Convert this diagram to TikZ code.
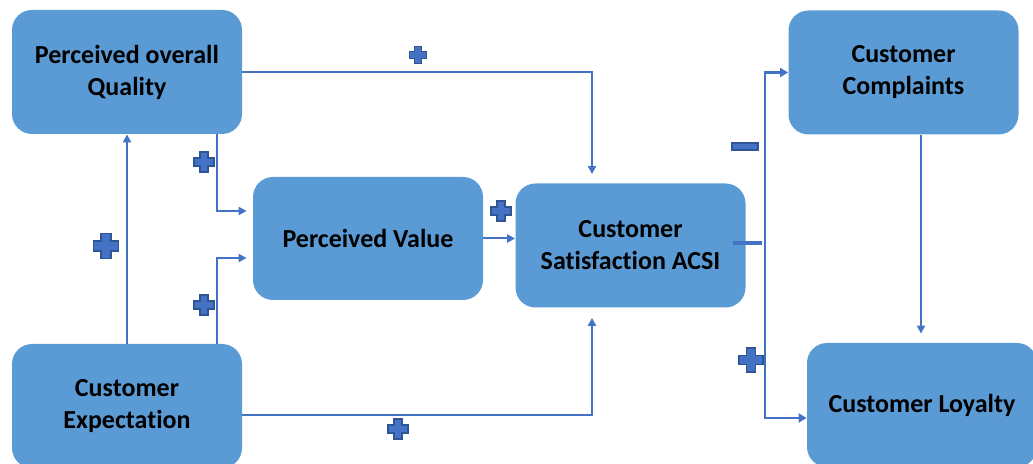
\documentclass[tikz,border=0pt]{standalone}
\usepackage{fontspec}
\setmainfont[Ligatures=NoCommon]{Carlito}
\usepackage{xcolor}
\usetikzlibrary{positioning, arrows.meta, calc}
\definecolor{boxblue}{HTML}{5B9BD5}
\definecolor{lineblue}{HTML}{4472C4}
\definecolor{signedge}{HTML}{2F5597}
\tikzstyle{block} = [rectangle, fill=boxblue, text=black, align=center, rounded corners=10pt, minimum width=115pt, minimum height=62pt, font=\bfseries\fontsize{13}{16}\selectfont]
\tikzstyle{line} = [draw=lineblue, line width=1pt, -{Triangle[length=4pt, width=4pt]}]
\tikzstyle{branch} = [draw=lineblue, line width=1.4pt, -{Triangle[length=4pt, width=4.5pt]}]
\tikzstyle{sign} = [fill=lineblue, draw=signedge, line width=0.6pt]
\tikzset{pics/plussign/.style={code={
  \path[sign] ({-#1},{-0.4*#1}) -- ({-0.4*#1},{-0.4*#1}) -- ({-0.4*#1},{-#1}) -- ({0.4*#1},{-#1})
    -- ({0.4*#1},{-0.4*#1}) -- ({#1},{-0.4*#1}) -- ({#1},{0.4*#1}) -- ({0.4*#1},{0.4*#1})
    -- ({0.4*#1},{#1}) -- ({-0.4*#1},{#1}) -- ({-0.4*#1},{0.4*#1}) -- ({-#1},{0.4*#1}) -- cycle;
}}}

\begin{document}
\begin{tikzpicture}[x=0.5pt, y=-0.5pt]
        \useasboundingbox (0,0) rectangle (1033,464);

        % Blocks
        \node (quality) [block] at (127,72) {Perceived overall\\Quality};
        \node (value) [block, minimum height=61.5pt] at (368,238.5) {Perceived Value};
        \node (acsi) [block] at (630.5,245.5) {Customer\\Satisfaction ACSI};
        \node (expect) [block] at (127,406) {Customer\\Expectation};
        \node (complain) [block] at (903.5,72.5) {Customer\\Complaints};
        \node (loyal) [block] at (922,405) {Customer Loyalty};

        % Signs
        \pic at (418,55) {plussign=8.5};
        \pic at (106,246) {plussign=12.5};
        \pic at (204,162) {plussign=10};
        \pic at (204,305) {plussign=10};
        \pic at (501,211) {plussign=10};
        \pic at (398,429) {plussign=10};
        \pic at (751,360) {plussign=12};
        \path[sign] (732,143) rectangle (758,150);

        % Edges
        \path [line] (expect.north) -- (quality.south);
        \path [line] ($(quality.south east)+(-25,0)$) |- ($(value.west)+(-6,-27.5)$);
        \path [line] ($(expect.north east)+(-25,0)$) |- ($(value.west)+(-6,19.5)$);
        \path [line] (quality.east) -| ($(acsi.north)+(-38.5,-9)$);
        \path [line] ($(expect.east)+(0,9)$) -| ($(acsi.south)+(-38.5,10)$);
        \path [line] (value.east) -- (value.east -| acsi.west);

        \coordinate (split) at ($(acsi.east)+(19,-2.5)$);
        \draw [lineblue, line width=2.2pt] ($(acsi.east)+(-13,-2.5)$) -- ($(split)+(-3,0)$);
        \path [branch] (split) |- (complain.west);
        \path [branch] (split) |- ($(loyal.west)+(0,13)$);

        \coordinate (down) at ($(complain.south)+(17.5,0)$);
        \path [line, shorten >=4.5pt] (down) -- (down |- loyal.north);

    \end{tikzpicture}
\end{document}
